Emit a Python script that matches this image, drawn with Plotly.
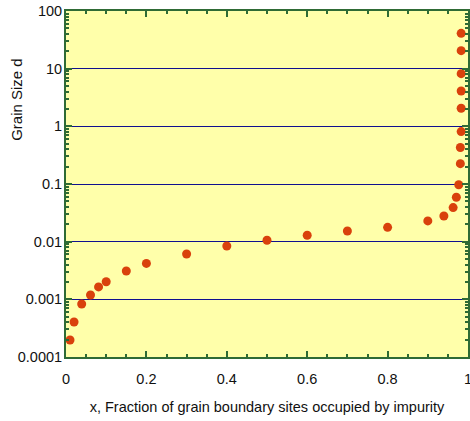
import plotly.graph_objects as go

x_frac = [0.01, 0.02, 0.039, 0.061, 0.081, 0.10, 0.15, 0.20, 0.30, 0.40, 0.50,
          0.60, 0.70, 0.80, 0.90, 0.94, 0.963, 0.971, 0.977,
          0.981, 0.981, 0.983, 0.983, 0.983, 0.983, 0.983, 0.983]
grain_d = [0.000197, 0.000405, 0.00083, 0.00119, 0.00164, 0.00202, 0.0031, 0.0042,
           0.0061, 0.0084, 0.0106, 0.0129, 0.0153, 0.0177, 0.0229, 0.0279, 0.039,
           0.059, 0.097, 0.225, 0.43, 0.81, 2.06, 4.1, 8.2, 20.5, 41]

y_tickvals = [0.0001, 0.001, 0.01, 0.1, 1, 10, 100]
y_ticktext = ["0.0001", "0.001", "0.01", "0.1", "1", "10", "100"]
x_tickvals = [0, 0.2, 0.4, 0.6, 0.8, 1]
x_ticktext = ["0", "0.2", "0.4", "0.6", "0.8", "1"]

y_minor = [m * 10.0 ** k for k in range(-4, 2) for m in range(2, 10)]
x_minor = [i * 0.05 for i in range(21)]

axis_col = "#2f6b35"
font = dict(family="Liberation Sans, Arial, sans-serif", size=14.5, color="#111111")

fig = go.Figure()
fig.add_trace(go.Scatter(
    x=x_frac, y=grain_d, mode="markers",
    marker=dict(size=9, color="#d9410c"),
    showlegend=False, cliponaxis=False,
))

fig.update_layout(
    width=470, height=421,
    margin=dict(l=66, r=2, t=11, b=64),
    paper_bgcolor="white", plot_bgcolor="#ffffaa",
    font=font,
    xaxis=dict(
        range=[0, 1], tickmode="array", tickvals=x_tickvals, ticktext=x_ticktext,
        ticks="inside", ticklen=6, tickwidth=1.5, tickcolor=axis_col,
        showline=True, linecolor=axis_col, linewidth=2, mirror="ticks",
        showgrid=False, zeroline=False, ticklabelstandoff=8,
        ticklabeloverflow="allow", automargin=False,
        tickfont=dict(size=14.5),
        minor=dict(tickmode="array", tickvals=x_minor, ticks="inside", ticklen=3,
                   tickcolor=axis_col, tickwidth=1.5, showgrid=False),
        title=dict(text="x, Fraction of grain boundary sites occupied by impurity",
                   font=dict(size=14.5), standoff=15),
    ),
    yaxis=dict(
        type="log", range=[-4, 2], tickmode="array", tickvals=y_tickvals,
        ticktext=y_ticktext,
        ticks="inside", ticklen=6, tickwidth=1.5, tickcolor=axis_col,
        showline=True, linecolor=axis_col, linewidth=2, mirror="ticks",
        showgrid=True, gridcolor="#10108f", gridwidth=1.3, zeroline=False,
        ticklabelstandoff=-1, automargin=False, ticklabeloverflow="allow",
        tickfont=dict(size=14.5),
        minor=dict(tickmode="array", tickvals=y_minor, ticks="inside", ticklen=3,
                   tickcolor=axis_col, tickwidth=1.5, showgrid=False),
    ),
    annotations=[dict(
        text="Grain Size d", textangle=-90, showarrow=False,
        xref="paper", yref="paper", x=-0.122, y=0.746,
        xanchor="center", yanchor="middle", font=dict(size=15),
    )],
)

fig.write_html("out.html")
